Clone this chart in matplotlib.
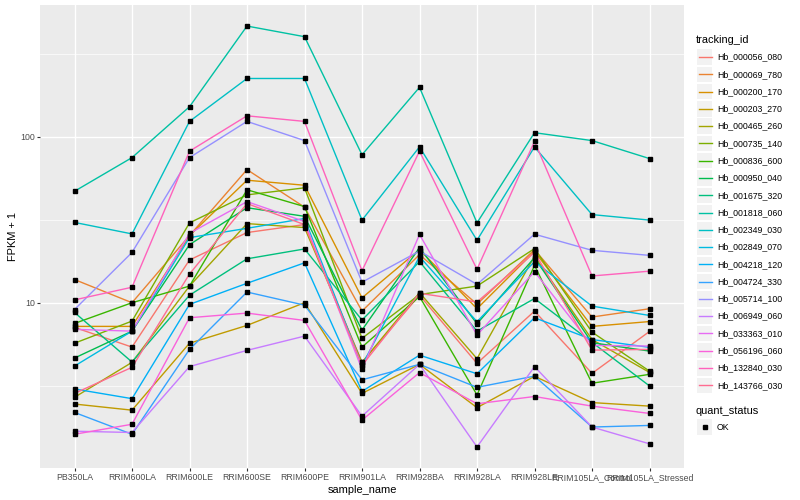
import numpy as np
import matplotlib
matplotlib.use("Agg")
import matplotlib.pyplot as plt
from matplotlib.patches import Rectangle
from matplotlib.lines import Line2D
from matplotlib.ticker import FixedLocator, NullFormatter

plt.rcParams["font.family"] = ["Liberation Sans", "DejaVu Sans"]

# samples on the x axis
samples = [
    "PB350LA", "RRIM600LA", "RRIM600LE", "RRIM600SE", "RRIM600PE", "RRIM901LA",
    "RRIM928BA", "RRIM928LA", "RRIM928LE", "RRIM105LA_Control", "RRIM105LA_Stressed",
]

# FPKM + 1 per gene (same order as samples)
hb_000056_080 = [7.1, 5.4, 18.1, 26.5, 29.6, 4.37, 11.1, 4.31, 8.9, 3.75, 6.71]
hb_000069_780 = [13.8, 10.0, 25.4, 63.5, 37.7, 8.9, 19.5, 9.8, 20.9, 8.2, 9.2]
hb_000200_170 = [7.2, 7.2, 25.4, 54.8, 51.1, 10.7, 20.9, 9.2, 20.4, 7.2, 7.7]
hb_000203_270 = [2.45, 2.25, 5.7, 7.3, 10.0, 2.84, 4.25, 2.33, 3.6, 2.5, 2.38]
hb_000465_260 = [2.69, 4.37, 12.6, 30.0, 28.4, 4.37, 11.5, 4.6, 19.1, 6.0, 3.8]
hb_000735_140 = [5.7, 7.75, 30.3, 44.7, 49.3, 6.1, 11.2, 12.6, 21.2, 6.65, 3.87]
hb_000836_600 = [7.5, 10.0, 12.6, 48.0, 38.0, 5.4, 10.9, 2.78, 16.8, 3.27, 3.7]
hb_000950_040 = [4.64, 6.74, 22.4, 37.4, 33.2, 6.84, 21.5, 7.47, 18.7, 5.74, 5.11]
hb_001675_320 = [8.74, 4.39, 11.1, 18.4, 21.1, 7.86, 17.7, 6.74, 10.6, 5.77, 3.15]
hb_001818_060 = [47.0, 75.0, 152.0, 466.0, 402.0, 78.0, 199.0, 30.3, 106.0, 95.0, 74.0]
hb_002349_030 = [30.5, 26.0, 124.0, 225.0, 225.0, 31.5, 87.0, 23.8, 87.0, 34.0, 31.5]
hb_002849_070 = [4.15, 6.74, 24.7, 28.1, 32.2, 4.19, 19.0, 7.68, 17.7, 9.54, 8.38]
hb_004218_120 = [3.02, 2.64, 9.77, 13.1, 17.4, 2.92, 4.83, 3.73, 8.12, 6.0, 5.38]
hb_004724_330 = [2.18, 1.61, 5.23, 11.6, 9.67, 3.43, 4.25, 3.09, 3.61, 1.78, 1.82]
hb_005714_100 = [9.1, 20.1, 75.0, 124.0, 95.0, 13.3, 20.5, 12.9, 25.9, 20.7, 19.3]
hb_006949_060 = [1.68, 1.65, 4.12, 5.16, 6.29, 2.07, 4.25, 1.35, 4.12, 1.78, 1.41]
hb_033363_010 = [6.91, 6.74, 26.2, 40.7, 30.9, 3.96, 25.8, 6.38, 15.4, 5.53, 5.48]
hb_056196_060 = [1.61, 1.85, 8.12, 8.66, 7.82, 1.96, 3.79, 2.46, 2.72, 2.38, 2.15]
hb_132840_030 = [10.4, 12.4, 82.0, 134.0, 124.0, 15.6, 82.0, 15.9, 94.0, 14.5, 15.5]
hb_143766_030 = [2.84, 4.08, 14.9, 39.6, 29.6, 4.19, 11.4, 10.1, 20.1, 5.18, 5.23]

tracking_ids = [
    "Hb_000056_080", "Hb_000069_780", "Hb_000200_170", "Hb_000203_270",
    "Hb_000465_260", "Hb_000735_140", "Hb_000836_600", "Hb_000950_040",
    "Hb_001675_320", "Hb_001818_060", "Hb_002349_030", "Hb_002849_070",
    "Hb_004218_120", "Hb_004724_330", "Hb_005714_100", "Hb_006949_060",
    "Hb_033363_010", "Hb_056196_060", "Hb_132840_030", "Hb_143766_030",
]
series = [
    hb_000056_080, hb_000069_780, hb_000200_170, hb_000203_270,
    hb_000465_260, hb_000735_140, hb_000836_600, hb_000950_040,
    hb_001675_320, hb_001818_060, hb_002349_030, hb_002849_070,
    hb_004218_120, hb_004724_330, hb_005714_100, hb_006949_060,
    hb_033363_010, hb_056196_060, hb_132840_030, hb_143766_030,
]

# ggplot default hue palette for 20 levels
colors = [
    "#F8766D", "#EA8331", "#D89000", "#C09B00", "#A3A500", "#7CAE00",
    "#39B600", "#00BB4E", "#00BF7D", "#00C1A3", "#00BFC4", "#00BAE0",
    "#00B0F6", "#35A2FF", "#9590FF", "#C77CFF", "#E76BF3", "#FA62DB",
    "#FF62BC", "#FF6C91",
]

W, H = 800, 500
fig = plt.figure(figsize=(8, 5), dpi=100)
ax = fig.add_axes([40 / W, 1 - 468 / H, (684 - 40) / W, (468 - 5) / H])
ax.set_facecolor("#EBEBEB")
for s in ax.spines.values():
    s.set_visible(False)

x = np.arange(len(samples))
for vals, c in zip(series, colors):
    ax.plot(x, vals, color=c, lw=1.0, zorder=2)
for vals in series:
    ax.plot(x, vals, "s", color="black", ms=2.3, zorder=3)

ax.set_yscale("log")
allv = np.concatenate([np.array(v) for v in series])
lo, hi = np.log10(allv.min()), np.log10(allv.max())
pad = 0.05 * (hi - lo)
ax.set_ylim(10 ** (lo - pad), 10 ** (hi + pad))
ax.set_xlim(-0.6, len(samples) - 0.4)

ax.yaxis.set_major_locator(FixedLocator([10, 100]))
ax.set_yticklabels(["10", "100"])
ax.yaxis.set_minor_locator(FixedLocator([10 ** 0.5, 10 ** 1.5, 10 ** 2.5]))
ax.yaxis.set_minor_formatter(NullFormatter())
ax.set_xticks(x)
ax.set_xticklabels(samples)

ax.grid(which="major", color="white", lw=1.0)
ax.grid(which="minor", axis="y", color="white", lw=0.5)
ax.set_axisbelow(True)
ax.tick_params(which="major", length=2, width=0.8, color="#333333",
               labelsize=6.3, labelcolor="#4D4D4D", pad=1.5)
ax.tick_params(which="minor", length=0)

ax.set_xlabel("sample_name", fontsize=7.9, labelpad=2)
ax.set_ylabel("FPKM + 1", fontsize=7.9, labelpad=2)

# legends drawn by hand, ggplot style
def fx(px):
    return px / W

def fy(py):
    return 1 - py / H

fig.text(fx(696), fy(40), "tracking_id", fontsize=7.9, va="center", ha="left")
for i, (name, c) in enumerate(zip(tracking_ids, colors)):
    yc = 57 + i * 17.28
    fig.add_artist(Rectangle((fx(697), fy(yc + 7.7)), 15.4 / W, 15.4 / H,
                             facecolor="#F2F2F2", edgecolor="none",
                             transform=fig.transFigure))
    fig.add_artist(Line2D([fx(698.5), fx(711.5)], [fy(yc), fy(yc)], color=c,
                          lw=1.0, transform=fig.transFigure))
    fig.text(fx(717), fy(yc), name, fontsize=6.3, va="center", ha="left")

fig.text(fx(696), fy(410.7), "quant_status", fontsize=7.9, va="center", ha="left")
yc = 427
fig.add_artist(Rectangle((fx(697), fy(yc + 7.7)), 15.4 / W, 15.4 / H,
                         facecolor="#F2F2F2", edgecolor="none",
                         transform=fig.transFigure))
fig.add_artist(Line2D([fx(705)], [fy(yc)], marker="s", color="black", ms=2.3,
                      transform=fig.transFigure))
fig.text(fx(717), fy(yc), "OK", fontsize=6.3, va="center", ha="left")

fig.savefig("out.png", dpi=100)
